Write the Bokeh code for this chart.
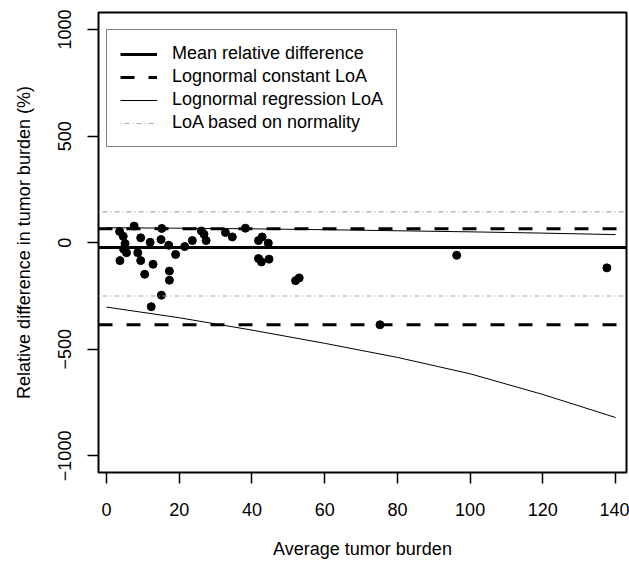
from bokeh.plotting import figure
from bokeh.models import Legend, LegendItem, FixedTicker, Range1d
from bokeh.embed import file_html
from bokeh.resources import INLINE

# ---- data ----
avg_burden = [3.6, 4.6, 5.1, 4.7, 5.5, 3.7, 7.6, 9.4, 8.6, 9.4,
              12.0, 12.8, 10.5, 15.2, 15.0, 17.1, 19.0, 17.3, 17.3, 15.1,
              12.3, 21.5, 23.6, 26.1, 26.8, 27.4, 32.7, 34.6, 38.2, 41.8,
              42.8, 44.5, 41.8, 42.6, 44.7, 52.0, 53.0, 75.2, 96.3, 137.6]
rel_diff = [53, 30, -4, -30, -47, -84, 78, 23, -47, -84,
            2, -101, -148, 67, 15, -12, -55, -133, -176, -246,
            -300, -18, 10, 55, 40, 10, 48, 27, 68, 10,
            27, -2, -74, -90, -77, -178, -165, -385, -59, -118]

mean_rel_diff = -22
lognormal_const_loa = [66, -385]
normal_loa = [145, -250]

reg_x = [0, 20, 40, 60, 80, 100, 120, 140]
reg_upper = [70, 68, 65, 61, 56, 51, 45, 38]
reg_lower = [-302, -352, -410, -472, -538, -615, -712, -820]

x_ticks = [0, 20, 40, 60, 80, 100, 120, 140]
y_ticks = [-1000, -500, 0, 500, 1000]

legend_labels = ["Mean relative difference", "Lognormal constant LoA",
                 "Lognormal regression LoA", "LoA based on normality"]

FONT = "Liberation Sans"
X0, X1 = -2.2, 143.0
Y0, Y1 = -1078, 1080

p = figure(width=629, height=561, output_backend="svg", toolbar_location=None,
           x_range=Range1d(X0, X1), y_range=Range1d(Y0, Y1),
           min_border_left=98, min_border_right=3, min_border_top=12,
           min_border_bottom=88, background_fill_color="white",
           border_fill_color="white")
p.grid.visible = False
p.outline_line_color = "black"
p.outline_line_width = 2
p.outline_line_alpha = 1.0

p.xaxis.ticker = FixedTicker(ticks=x_ticks)
p.yaxis.ticker = FixedTicker(ticks=y_ticks)
p.yaxis.major_label_overrides = {t: (str(t).replace("-", "\u2212")) for t in y_ticks}
for ax in (p.xaxis, p.yaxis):
    ax.axis_line_color = None
    ax.major_tick_out = 11
    ax.major_tick_in = 0
    ax.major_tick_line_width = 1.5
    ax.major_tick_line_color = "black"
    ax.minor_tick_line_color = None
    ax.major_label_text_font = FONT
    ax.major_label_text_font_size = "18px"
    ax.major_label_text_color = "black"
    ax.axis_label_text_font = FONT
    ax.axis_label_text_font_size = "18px"
    ax.axis_label_text_font_style = "normal"
    ax.axis_label_text_color = "black"
p.xaxis.major_label_standoff = 19
p.xaxis.axis_label_standoff = 20
p.yaxis.major_label_standoff = 16
p.yaxis.axis_label_standoff = 22
p.yaxis.major_label_orientation = "vertical"
p.xaxis.axis_label = "Average tumor burden"
p.yaxis.axis_label = "Relative difference in tumor burden (%)"

# points
p.scatter(avg_burden, rel_diff, size=8, color="black", marker="circle")

# LoA based on normality
r_norm = None
for v in normal_loa:
    r_norm = p.line([X0, X1], [v, v], line_color="#aaaaaa", line_width=1.2,
                    line_dash="1 3 5 3")
# Lognormal regression LoA
r_reg = p.line(reg_x, reg_upper, line_color="black", line_width=1)
p.line(reg_x, reg_lower, line_color="black", line_width=1)
# Lognormal constant LoA
r_const = None
for v in lognormal_const_loa:
    r_const = p.line([X0, X1], [v, v], line_color="black", line_width=3,
                     line_dash="14 14")
# Mean
r_mean = p.line([X0, X1], [mean_rel_diff, mean_rel_diff], line_color="black",
                line_width=3)

legend = Legend(items=[
    LegendItem(label=legend_labels[0], renderers=[r_mean]),
    LegendItem(label=legend_labels[1], renderers=[r_const]),
    LegendItem(label=legend_labels[2], renderers=[r_reg]),
    LegendItem(label=legend_labels[3], renderers=[r_norm]),
], location=(8, 325), margin=0, padding=13, spacing=2,
    glyph_width=37, glyph_height=20, label_height=20, label_standoff=15,
    label_text_font=FONT, label_text_font_size="18px", label_text_color="black",
    border_line_color="black", border_line_width=1.5, background_fill_alpha=1.0,
    background_fill_color="white")
p.add_layout(legend)

open("out.html", "w").write(file_html(p, INLINE))
